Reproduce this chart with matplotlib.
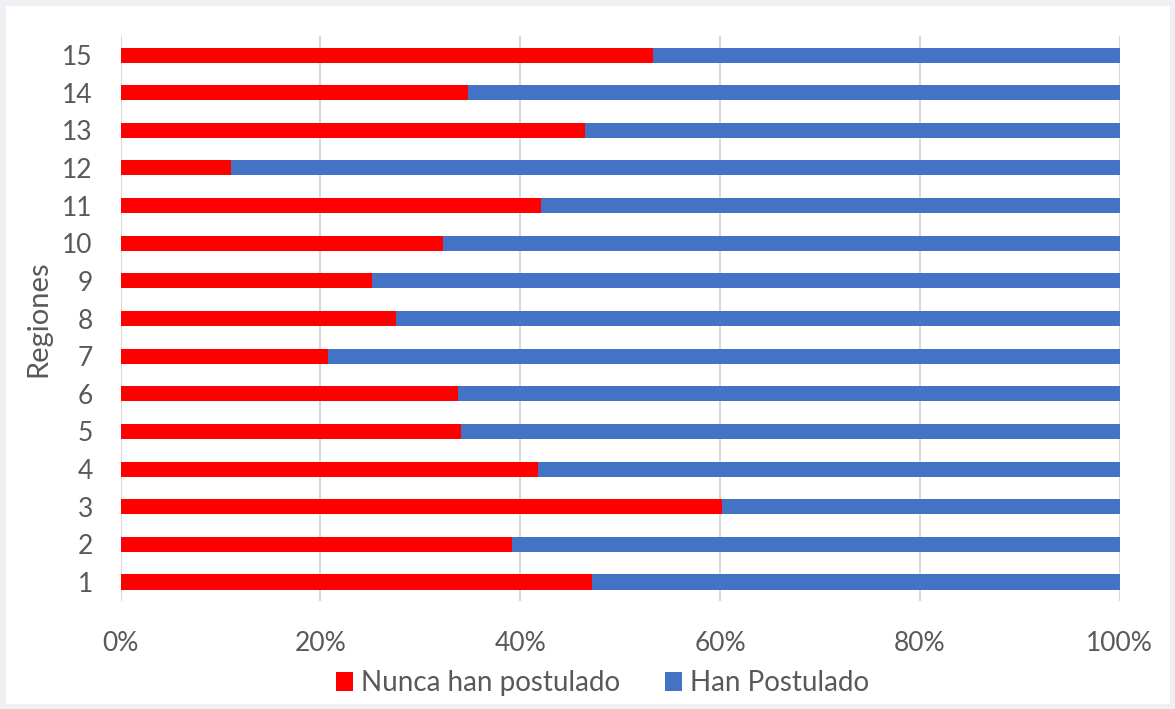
import matplotlib
matplotlib.use("Agg")
import matplotlib.pyplot as plt
from matplotlib.patches import Rectangle, Patch
from matplotlib.ticker import PercentFormatter

plt.rcParams['font.family'] = ['Lato', 'DejaVu Sans']

regions = [str(i) for i in range(1, 16)]
nunca = [47.2, 39.2, 60.2, 41.8, 34.1, 33.8, 20.8, 27.6, 25.2, 32.3, 42.1, 11.1, 46.5, 34.8, 53.3]
han = [100 - v for v in nunca]
series_names = ["Nunca han postulado", "Han Postulado"]
colors = ["#FF0000", "#4472C4"]
xticks = [0, 20, 40, 60, 80, 100]

fig = plt.figure(figsize=(11.75, 7.09), dpi=100)
fig.patch.set_facecolor("white")
# light grey frame around the chart area
fig.patches.append(Rectangle((0, 0), 1, 1, transform=fig.transFigure,
                             facecolor="none", edgecolor="#EEF0F4",
                             linewidth=8, zorder=0))

ax = fig.add_axes([0.1026, 0.1526, 0.8502, 0.7963])
ax.set_zorder(2)
ax.set_facecolor("none")
ypos = list(range(1, len(regions) + 1))
ax.barh(ypos, nunca, height=0.4, color=colors[0], zorder=3)
ax.barh(ypos, han, left=nunca, height=0.4, color=colors[1], zorder=3)

ax.set_xlim(0, 100)
ax.set_ylim(0.5, len(regions) + 0.5)
ax.set_xticks(xticks)
ax.xaxis.set_major_formatter(PercentFormatter(decimals=0))
ax.set_yticks(ypos)
ax.set_yticklabels(regions)
ax.grid(axis="x", color="#D9D9D9", linewidth=1.5, zorder=0)
for s in ax.spines.values():
    s.set_visible(False)
ax.tick_params(axis="both", length=0, labelsize=19, labelcolor="#595959")
ax.tick_params(axis="x", pad=22)
ax.tick_params(axis="y", pad=20)
ax.set_ylabel("Regiones", fontsize=21, color="#595959", labelpad=8)

handles = [Patch(facecolor=c, label=n) for c, n in zip(colors, series_names)]
leg = fig.legend(handles=handles, loc="center", bbox_to_anchor=(0.513, 0.036),
                 ncol=2, frameon=False, fontsize=20, handlelength=0.6,
                 handleheight=0.7, handletextpad=0.3, columnspacing=1.6)
for t in leg.get_texts():
    t.set_color("#595959")

fig.savefig("out.png", dpi=100)
